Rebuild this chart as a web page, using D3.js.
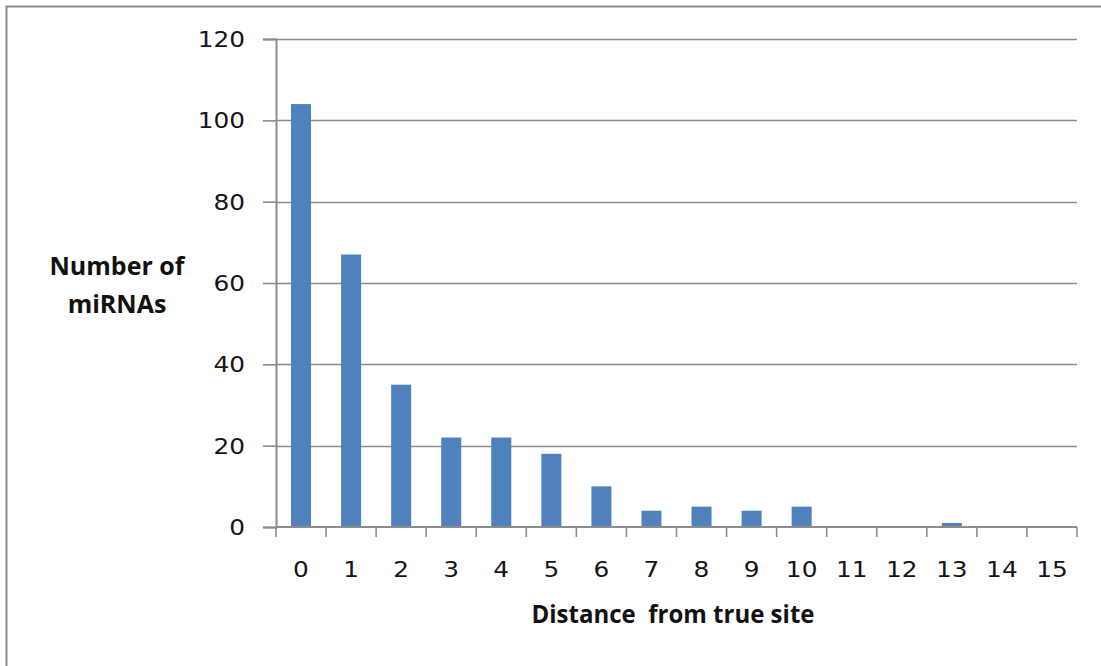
<!DOCTYPE html>
<html>
<head>
<meta charset="utf-8">
<script src="https://cdn.jsdelivr.net/npm/d3@7"></script>
<style>
  html, body { margin: 0; padding: 0; background: #fff; }
  svg { display: block; }
</style>
</head>
<body>
<svg id="chart" width="1101" height="666"></svg>
<script>
const categories = ["0","1","2","3","4","5","6","7","8","9","10","11","12","13","14","15"];
const counts = [104, 67, 35, 22, 22, 18, 10, 4, 5, 4, 5, 0, 0, 1, 0, 0];
const yTicks = [0, 20, 40, 60, 80, 100, 120];
const xTitle = "Distance  from true site";
const yTitleLines = ["Number of", "miRNAs"];

const svg = d3.select("#chart");
const W = 1101, H = 666;
const m = { left: 276, top: 39, right: 1077, bottom: 527 };
const grid = "#8c8c8c";
const barColor = "#4f81bd";
const tickFont = "'DejaVu Sans', sans-serif";
const titleFont = "'Open Sans', sans-serif";

function stretch(sel, k) {
  sel.each(function () {
    const len = this.getComputedTextLength();
    d3.select(this).attr("textLength", len * k).attr("lengthAdjust", "spacingAndGlyphs");
  });
}

// outer frame (top and left edges visible)
svg.append("path")
  .attr("d", `M6.5,${H + 5} V6.5 H${W + 5}`)
  .attr("fill", "none").attr("stroke", "#8a8a8a").attr("stroke-width", 2);

const x = d3.scaleBand().domain(categories).range([m.left, m.right]).paddingInner(0.6).paddingOuter(0.3);
const y = d3.scaleLinear().domain([0, 120]).range([m.bottom, m.top]);

// gridlines
svg.append("g").selectAll("line").data(yTicks.filter(d => d > 0)).join("line")
  .attr("x1", m.left).attr("x2", m.right)
  .attr("y1", d => Math.round(y(d)) + 0.5).attr("y2", d => Math.round(y(d)) + 0.5)
  .attr("stroke", grid).attr("stroke-width", 1.6);

// bars
svg.append("g").selectAll("rect").data(categories).join("rect")
  .attr("x", (d) => x(d))
  .attr("width", x.bandwidth())
  .attr("y", (d, i) => y(counts[i]))
  .attr("height", (d, i) => y(0) - y(counts[i]))
  .attr("fill", barColor);

// y axis
const yAxis = d3.axisLeft(y).tickValues(yTicks).tickSize(13).tickPadding(18).tickFormat(d3.format("d"));
const gy = svg.append("g").attr("transform", `translate(${m.left},0)`).call(yAxis);
gy.select(".domain").attr("stroke", grid).attr("stroke-width", 2);
gy.selectAll(".tick line").attr("stroke", grid).attr("stroke-width", 1.6);
gy.selectAll(".tick text").attr("font-family", tickFont).attr("font-size", 21).attr("fill", "#141414")
  .attr("dy", "0.36em").call(stretch, 1.18);

// x axis: ticks at band boundaries
const xBounds = d3.range(categories.length + 1).map(i => m.left + i * (m.right - m.left) / categories.length);
const gx = svg.append("g");
gx.append("line").attr("x1", m.left).attr("x2", m.right).attr("y1", m.bottom).attr("y2", m.bottom)
  .attr("stroke", grid).attr("stroke-width", 2);
gx.selectAll("line.t").data(xBounds).join("line").attr("class", "t")
  .attr("x1", d => d).attr("x2", d => d).attr("y1", m.bottom).attr("y2", m.bottom + 10)
  .attr("stroke", grid).attr("stroke-width", 1.6);
gx.selectAll("text").data(categories).join("text")
  .attr("x", d => x(d) + x.bandwidth() / 2)
  .attr("y", 577)
  .attr("text-anchor", "middle")
  .attr("font-family", tickFont).attr("font-size", 21).attr("fill", "#141414")
  .text(d => d)
  .call(stretch, 1.18);

// axis titles
svg.append("text").attr("x", 673).attr("y", 623).attr("text-anchor", "middle")
  .attr("font-family", titleFont).attr("font-weight", "bold").attr("font-size", 25).attr("fill", "#111")
  .attr("xml:space", "preserve")
  .attr("textLength", 283).attr("lengthAdjust", "spacingAndGlyphs")
  .text(xTitle);
svg.append("text").attr("text-anchor", "middle")
  .attr("font-family", titleFont).attr("font-weight", "bold").attr("font-size", 25).attr("fill", "#111")
  .selectAll("tspan").data(yTitleLines).join("tspan")
  .attr("x", 117).attr("y", (d, i) => 275 + i * 38).text(d => d);
</script>
</body>
</html>
